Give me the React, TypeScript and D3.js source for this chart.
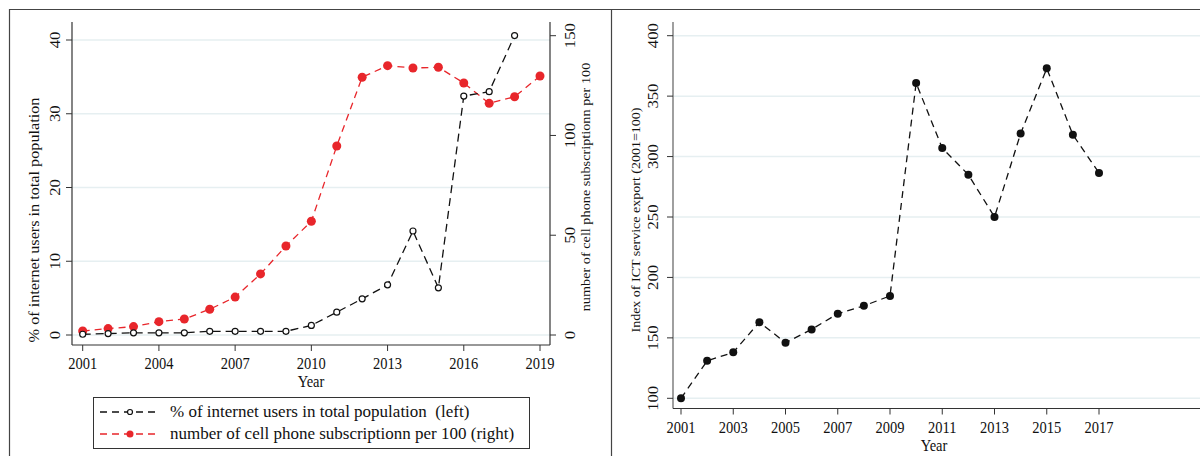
import React from 'react';
import * as d3 from 'd3';

const years = d3.range(2001, 2020);
const internetPct = [0.1, 0.2, 0.3, 0.3, 0.3, 0.5, 0.5, 0.5, 0.5, 1.3, 3.1, 4.9, 6.8, 14.1, 6.4, 32.4, 33.0, 40.6];
const cellPer100 = [2.0, 3.2, 4.2, 6.7, 8.0, 12.9, 19.0, 30.6, 44.6, 57.0, 94.7, 129.2, 135.0, 133.8, 134.2, 126.3, 116.1, 119.4, 129.8];
const leftYTicks = [0, 10, 20, 30, 40];
const rightYTicks = [0, 50, 100, 150];
const leftXTicks = [2001, 2004, 2007, 2010, 2013, 2016, 2019];

const ictYears = d3.range(2001, 2018);
const ictIndex = [100, 131, 138, 163, 146, 157, 170, 176.5, 184.7, 360.8, 307, 285, 250, 319, 373, 318, 286.5];
const ictYTicks = [100, 150, 200, 250, 300, 350, 400];
const ictXTicks = [2001, 2003, 2005, 2007, 2009, 2011, 2013, 2015, 2017];

const FONT = '"Liberation Serif", "Times New Roman", serif';
const GRID = '#e6eff1';
// the original figure is stretched a bit vertically
const SY = 1.15;

const HText = ({ x, y, size, children }: any) => (
  <text transform={`translate(${x},${y}) scale(1,${SY})`} textAnchor="middle" fontSize={size} fill="#111">{children}</text>
);
const VText = ({ x, y, size, children }: any) => (
  <text transform={`translate(${x},${y}) rotate(-90) scale(${SY},1)`} textAnchor="middle" fontSize={size} fill="#111">{children}</text>
);

const LeftPanel = () => {
  const x = d3.scaleLinear().domain([2001, 2019]).range([82.7, 540]);
  const yL = d3.scaleLinear().domain([0, 40]).range([335, 40]);
  const yR = d3.scaleLinear().domain([0, 150]).range([335, 35.7]);
  const left = 72, right = 550, top = 22, bottom = 345;
  const lineL = d3.line<number>().x((d, i) => x(years[i])).y(d => yL(d));
  const lineR = d3.line<number>().x((d, i) => x(years[i])).y(d => yR(d));
  return (
    <g fontFamily={FONT}>
      {leftYTicks.map(t => (
        <line key={'g' + t} x1={left} x2={right} y1={yL(t)} y2={yL(t)} stroke={GRID} strokeWidth={1.5} />
      ))}
      <path d={lineR(cellPer100) || ''} fill="none" stroke="#e8262b" strokeWidth={1.3} strokeDasharray="7,5" />
      {cellPer100.map((d, i) => (
        <circle key={'r' + i} cx={x(years[i])} cy={yR(d)} r={4.5} fill="#e8262b" />
      ))}
      <path d={lineL(internetPct) || ''} fill="none" stroke="#111" strokeWidth={1.3} strokeDasharray="8,5" />
      {internetPct.map((d, i) => (
        <circle key={'b' + i} cx={x(years[i])} cy={yL(d)} r={3} fill="#fff" stroke="#111" strokeWidth={1.2} />
      ))}
      <line x1={left} x2={left} y1={top} y2={bottom} stroke="#333" strokeWidth={1.2} />
      <line x1={right} x2={right} y1={top} y2={bottom} stroke="#333" strokeWidth={1.2} />
      <line x1={left} x2={right} y1={bottom} y2={bottom} stroke="#333" strokeWidth={1.2} />
      {leftYTicks.map(t => (
        <g key={'l' + t}>
          <line x1={left - 6} x2={left} y1={yL(t)} y2={yL(t)} stroke="#333" />
          <VText x={60} y={yL(t)} size={14.5}>{t}</VText>
        </g>
      ))}
      {rightYTicks.map(t => (
        <g key={'r' + t}>
          <line x1={right} x2={right + 6} y1={yR(t)} y2={yR(t)} stroke="#333" />
          <VText x={575} y={yR(t)} size={14.5}>{t}</VText>
        </g>
      ))}
      {leftXTicks.map(t => (
        <g key={'x' + t}>
          <line x1={x(t)} x2={x(t)} y1={bottom} y2={bottom + 6} stroke="#333" />
          <HText x={x(t)} y={369} size={14.5}>{t}</HText>
        </g>
      ))}
      <HText x={311} y={386.5} size={14.5}>Year</HText>
      <VText x={39} y={220} size={14.1}>% of internet users in total population</VText>
      <VText x={590} y={187} size={12.4}>number of cell phone subscriptionn per 100</VText>
      <rect x={93.5} y={397.5} width={436} height={51} fill="#fff" stroke="#333" strokeWidth={1} />
      <line x1={100} x2={159} y1={412} y2={412} stroke="#111" strokeWidth={1.3} strokeDasharray="7,5" />
      <circle cx={130} cy={412} r={2.5} fill="#fff" stroke="#111" strokeWidth={1.2} />
      <text x={170} y={417} fontSize={17} fill="#111" style={{ whiteSpace: 'pre' }}>{'% of internet users in total population  (left)'}</text>
      <line x1={100} x2={159} y1={434} y2={434} stroke="#e8262b" strokeWidth={1.3} strokeDasharray="7,5" />
      <circle cx={130} cy={434} r={3.5} fill="#e8262b" />
      <text x={170} y={439} fontSize={17} fill="#111">number of cell phone subscriptionn per 100 (right)</text>
    </g>
  );
};

const RightPanel = () => {
  const x = d3.scaleLinear().domain([2001, 2017]).range([681, 1099]);
  const y = d3.scaleLinear().domain([100, 400]).range([398.3, 35.7]);
  const left = 673, right = 1200, top = 22, bottom = 408.5;
  const line = d3.line<number>().x((d, i) => x(ictYears[i])).y(d => y(d));
  return (
    <g fontFamily={FONT}>
      {ictYTicks.map(t => (
        <line key={'g' + t} x1={left} x2={right} y1={y(t)} y2={y(t)} stroke={GRID} strokeWidth={1.5} />
      ))}
      <path d={line(ictIndex) || ''} fill="none" stroke="#111" strokeWidth={1.3} strokeDasharray="7,5" />
      {ictIndex.map((d, i) => (
        <circle key={'p' + i} cx={x(ictYears[i])} cy={y(d)} r={4} fill="#111" />
      ))}
      <line x1={left} x2={left} y1={top} y2={bottom} stroke="#777" strokeWidth={1.4} />
      <line x1={left} x2={right} y1={bottom} y2={bottom} stroke="#333" strokeWidth={1.2} />
      {ictYTicks.map(t => (
        <g key={'y' + t}>
          <line x1={left - 6} x2={left} y1={y(t)} y2={y(t)} stroke="#333" />
          <VText x={658} y={y(t)} size={14.5}>{t}</VText>
        </g>
      ))}
      {ictXTicks.map(t => (
        <g key={'x' + t}>
          <line x1={x(t)} x2={x(t)} y1={bottom} y2={bottom + 6} stroke="#333" />
          <HText x={x(t)} y={433} size={14.5}>{t}</HText>
        </g>
      ))}
      <HText x={934} y={450.5} size={14.5}>Year</HText>
      <VText x={640} y={220} size={12.2}>Index of ICT service export (2001=100)</VText>
    </g>
  );
};

const App = () => (
  <svg width={1200} height={456} style={{ position: 'absolute', left: 0, top: 0, background: '#fff' }}>
    <rect x={0} y={0} width={1200} height={456} fill="#fff" />
    <line x1={9} x2={1200} y1={9.5} y2={9.5} stroke="#444" strokeWidth={1.2} />
    <line x1={9.5} x2={9.5} y1={9} y2={456} stroke="#444" strokeWidth={1.2} />
    <line x1={611.5} x2={611.5} y1={9} y2={456} stroke="#444" strokeWidth={1.2} />
    <LeftPanel />
    <RightPanel />
  </svg>
);

export default App;
